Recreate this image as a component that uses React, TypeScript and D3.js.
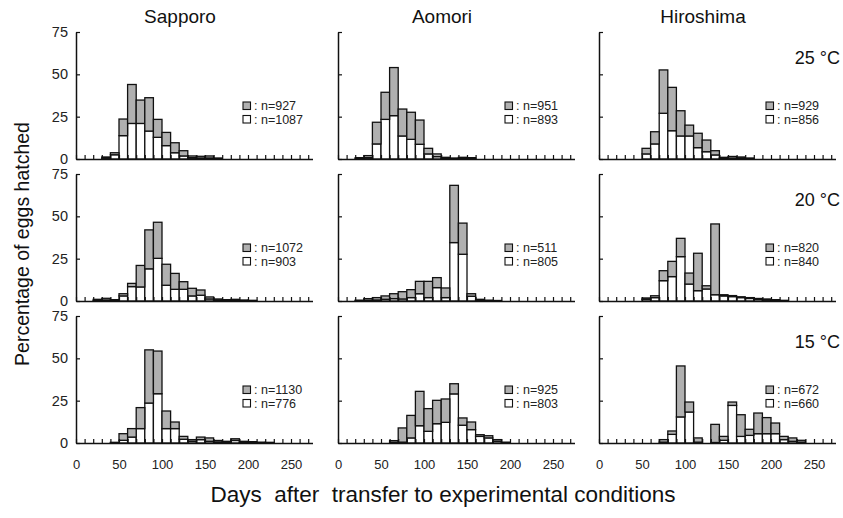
import { useEffect, useRef } from 'react'
import * as d3 from 'd3'

// bin start (days), 10-day bins
const bins = [0, 10, 20, 30, 40, 50, 60, 70, 80, 90, 100, 110, 120, 130, 140, 150, 160, 170, 180, 190, 200, 210, 220, 230, 240, 250, 260, 270]

const cities = ['Sapporo', 'Aomori', 'Hiroshima']
const temps = ['25', '20', '15']
const xTickLabels = [0, 50, 100, 150, 200, 250]
const yTicks = [0, 25, 50, 75]

const nGray = [[927, 951, 929], [1072, 511, 820], [1130, 925, 672]]
const nWhite = [[1087, 893, 856], [903, 805, 840], [776, 803, 660]]

// % hatched, white (bottom) and gray (top) parts
const sapporo25White = [0, 0, 0, 0.5, 2.5, 13.8, 21, 21, 16.5, 12.8, 7.9, 3.7, 1.8, 0.8, 0.6, 0.6, 0.2, 0, 0, 0, 0, 0, 0, 0, 0, 0, 0, 0]
const sapporo25Gray = [0, 0, 0, 0.7, 1.2, 9.8, 23, 13.8, 19.7, 10.6, 7.8, 5.9, 3.1, 1, 1, 1.2, 0.4, 0, 0, 0, 0, 0, 0, 0, 0, 0, 0, 0]
const aomori25White = [0, 0, 0.3, 0.8, 8.9, 23.4, 25.6, 13.6, 11.6, 8.7, 3, 1.4, 0.4, 0.2, 0.3, 0.3, 0, 0, 0, 0, 0, 0, 0, 0, 0, 0, 0, 0]
const aomori25Gray = [0, 0, 0.5, 1.2, 12.8, 16, 28.4, 15.9, 16, 14.3, 3.3, 1.6, 0.6, 0.4, 0.7, 0.5, 0, 0, 0, 0, 0, 0, 0, 0, 0, 0, 0, 0]
const hiroshima25White = [0, 0, 0, 0, 0, 3, 8.9, 27, 16.7, 13.6, 13.6, 6.7, 4.3, 2.4, 0.4, 0.5, 0.4, 0.2, 0, 0, 0, 0, 0, 0, 0, 0, 0, 0]
const hiroshima25Gray = [0, 0, 0, 0, 0, 3.3, 7.2, 25.6, 25.6, 14.9, 6.4, 8.5, 6.9, 2.5, 0.6, 1, 0.8, 0.4, 0, 0, 0, 0, 0, 0, 0, 0, 0, 0]

const sapporo20White = [0, 0, 0.3, 0.6, 0.3, 3, 8.5, 8.3, 19, 25.2, 9.3, 6.9, 6.9, 3, 3.4, 1.2, 0.4, 0.3, 0.3, 0.2, 0.1, 0, 0, 0, 0, 0, 0, 0]
const sapporo20Gray = [0, 0, 0.7, 1, 0.5, 1.3, 1.9, 12.7, 23, 21.3, 12.4, 9.4, 4.5, 4.5, 3.1, 1.2, 0.8, 0.5, 0.7, 0.4, 0.3, 0, 0, 0, 0, 0, 0, 0]
const aomori20White = [0, 0, 0.2, 0.4, 0.6, 1, 1.4, 1.2, 2, 4.3, 2, 7.9, 2, 34.5, 27.6, 2.8, 0.4, 0.2, 0.1, 0, 0, 0, 0, 0, 0, 0, 0, 0]
const aomori20Gray = [0, 0, 0.3, 1, 1.4, 2, 2.9, 4.3, 4.7, 7.3, 9.6, 5.9, 5.7, 33.8, 18.4, 1.5, 0.6, 0.3, 0.2, 0, 0, 0, 0, 0, 0, 0, 0, 0]
const hiroshima20White = [0, 0, 0, 0, 0, 1, 2, 12, 14.4, 26.2, 10, 6.1, 7.1, 3.7, 3, 2.6, 2, 1.5, 1, 0.8, 0.4, 0.2, 0, 0, 0, 0, 0, 0]
const hiroshima20Gray = [0, 0, 0, 0, 0, 0.8, 1.1, 5.9, 9, 10.8, 6.5, 22.1, 1.9, 41.8, 0.7, 0.6, 0.5, 0.5, 0.5, 0.4, 0.4, 0.2, 0, 0, 0, 0, 0, 0]

const sapporo15White = [0, 0, 0, 0, 0.1, 1.6, 3.5, 8.5, 23.6, 29.1, 8.5, 8.5, 2.2, 1, 2, 1, 0.6, 0.4, 1.5, 0.4, 0.3, 0.2, 0.1, 0, 0, 0, 0, 0]
const sapporo15Gray = [0, 0, 0, 0, 0.3, 3.9, 5, 12.4, 31.4, 25.2, 10.4, 3.9, 1.7, 1, 1.5, 2, 0.9, 0.6, 1, 0.6, 0.5, 0.3, 0.3, 0, 0, 0, 0, 0]
const aomori15White = [0, 0, 0, 0, 0, 0, 0.4, 0.5, 3, 10.2, 6.9, 11.4, 12.2, 29, 10.5, 7.9, 3.9, 3, 1, 0.2, 0, 0, 0, 0, 0, 0, 0, 0]
const aomori15Gray = [0, 0, 0, 0, 0, 0, 1, 8.4, 13.3, 20.3, 13.4, 13.8, 13.8, 6, 4.3, 4.5, 1, 1.3, 1, 0.3, 0, 0, 0, 0, 0, 0, 0, 0]
const hiroshima15White = [0, 0, 0, 0, 0, 0, 0, 0.5, 5.1, 15.4, 18.3, 0.5, 0, 0.3, 1.6, 22.2, 3.9, 4.5, 5.5, 5.5, 5.5, 2, 1, 0.5, 0, 0, 0, 0]
const hiroshima15Gray = [0, 0, 0, 0, 0, 0, 0, 1.5, 2, 30.1, 5.9, 2.5, 0, 10.7, 2.3, 2, 12.8, 3.6, 12.2, 9.5, 6.3, 1.9, 2, 1.1, 0, 0, 0, 0]

const whiteSeries = [
  [sapporo25White, aomori25White, hiroshima25White],
  [sapporo20White, aomori20White, hiroshima20White],
  [sapporo15White, aomori15White, hiroshima15White]
]
const graySeries = [
  [sapporo25Gray, aomori25Gray, hiroshima25Gray],
  [sapporo20Gray, aomori20Gray, hiroshima20Gray],
  [sapporo15Gray, aomori15Gray, hiroshima15Gray]
]

const FONT = '"Liberation Sans", Arial, Helvetica, sans-serif'

export default function App() {
  const ref = useRef<SVGSVGElement>(null)

  useEffect(() => {
    const styles = {
      width: 843,
      height: 518,
      left: 76,       // first y-axis
      colStep: 261.5,
      top: 159,       // first baseline
      rowStep: 142,
      plotH: 127,
      pxPerDay: 0.86
    }

    const svg = d3.select(ref.current)
    svg.selectAll('*').remove()
    svg.attr('font-family', FONT)

    const stack = d3.stack<any>().keys(['white', 'gray'])

    for (let r = 0; r < 3; r++) {
      for (let c = 0; c < 3; c++) {
        const ox = Math.round(styles.left + c * styles.colStep)
        const base = styles.top + r * styles.rowStep

        const x = d3.scaleLinear().domain([0, 275]).range([ox, ox + 275 * styles.pxPerDay])
        const y = d3.scaleLinear().domain([0, 75]).range([base, base - styles.plotH])

        const table = bins.map((d, i) => ({ day: d, white: whiteSeries[r][c][i], gray: graySeries[r][c][i] }))
        const layers = stack(table)

        const g = svg.append('g')

        // stacked bars
        g.selectAll('g.layer')
          .data(layers)
          .join('g')
          .attr('class', 'layer')
          .attr('fill', (d) => (d.key === 'white' ? '#ffffff' : '#b0b0b0'))
          .selectAll('rect')
          .data((d) => d.filter((v) => v[1] - v[0] > 0))
          .join('rect')
          .attr('x', (d) => x(d.data.day))
          .attr('width', x(10) - x(0))
          .attr('y', (d) => y(d[1]))
          .attr('height', (d) => y(d[0]) - y(d[1]))
          .attr('stroke', '#111')
          .attr('stroke-width', 1.3)

        // x-axis with inward ticks
        g.append('g')
          .attr('transform', `translate(0,${base})`)
          .call(d3.axisBottom(x).tickValues(bins).tickSizeInner(-4).tickSizeOuter(0).tickFormat(() => ''))
          .call((a) => a.select('.domain').attr('stroke', '#111').attr('stroke-width', 1.5))
          .call((a) => a.selectAll('.tick line').attr('stroke', '#111').attr('stroke-width', 1.2))

        if (r === 2) {
          g.append('g')
            .attr('transform', `translate(0,${base})`)
            .call(d3.axisBottom(x).tickValues(xTickLabels).tickSize(0).tickPadding(17))
            .call((a) => a.select('.domain').remove())
            .call((a) => a.selectAll('text').attr('font-size', 13).attr('fill', '#222').attr('font-family', FONT))
        }

        // y-axis with inward ticks
        g.append('g')
          .attr('transform', `translate(${ox},0)`)
          .call(d3.axisLeft(y).tickValues(yTicks).tickSizeInner(-4).tickSizeOuter(0).tickPadding(8)
            .tickFormat((v) => (c === 0 ? String(v) : '')))
          .call((a) => a.select('.domain').attr('stroke', '#111').attr('stroke-width', 1.5))
          .call((a) => a.selectAll('.tick line').attr('stroke', '#111').attr('stroke-width', 1.2))
          .call((a) => a.selectAll('text').attr('font-size', 14.5).attr('fill', '#222').attr('font-family', FONT))

        // legend
        const lx = ox + 167
        const legend = [
          { fill: '#b0b0b0', n: nGray[r][c], y0: base - 57 },
          { fill: '#ffffff', n: nWhite[r][c], y0: base - 43.5 }
        ]
        legend.forEach((l) => {
          g.append('rect')
            .attr('x', lx).attr('y', l.y0).attr('width', 7.5).attr('height', 7.5)
            .attr('fill', l.fill).attr('stroke', '#111').attr('stroke-width', 1.1)
          g.append('text')
            .attr('x', lx + 11).attr('y', l.y0 + 8)
            .attr('font-size', 12.5).attr('fill', '#222')
            .text(`: n=${l.n}`)
        })

        if (r === 0) {
          svg.append('text')
            .attr('x', ox + 104).attr('y', 23)
            .attr('text-anchor', 'middle').attr('font-size', 19).attr('fill', '#111')
            .text(cities[c])
        }
        if (c === 2) {
          svg.append('text')
            .attr('x', 840).attr('y', base - 95)
            .attr('text-anchor', 'end').attr('font-size', 18).attr('fill', '#111')
            .text(`${temps[r]} °C`)
        }
      }
    }

    // axis titles
    svg.append('text')
      .attr('transform', 'translate(29,244) rotate(-90)')
      .attr('text-anchor', 'middle').attr('font-size', 19.5).attr('fill', '#111')
      .text('Percentage of eggs hatched')

    svg.append('text')
      .attr('x', 443).attr('y', 502)
      .attr('text-anchor', 'middle').attr('font-size', 22.5).attr('fill', '#111')
      .style('white-space', 'pre')
      .text('Days  after  transfer to experimental conditions')
  }, [])

  return (
    <svg
      ref={ref}
      width={843}
      height={518}
      viewBox="0 0 843 518"
      style={{ position: 'absolute', left: 0, top: 0, background: '#fff' }}
    />
  )
}
